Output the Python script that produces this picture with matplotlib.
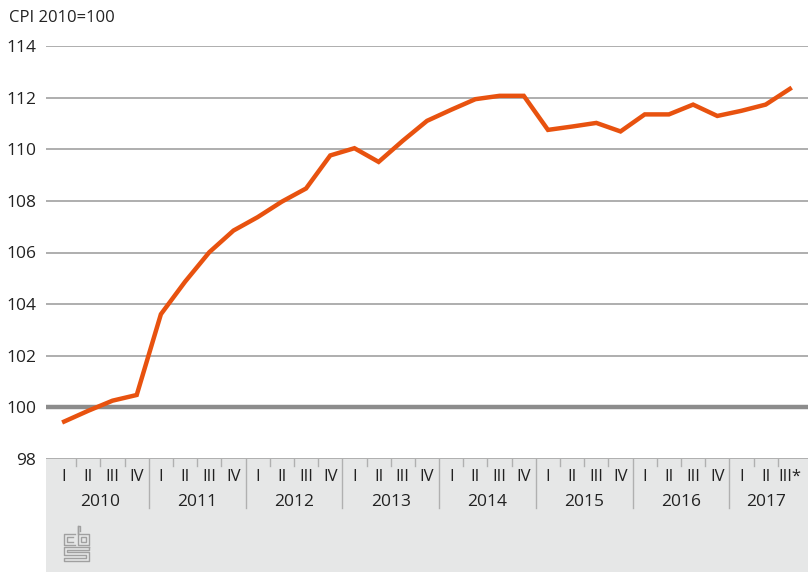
import matplotlib.pyplot as plt
from matplotlib.patches import Rectangle

years = ['2010', '2011', '2012', '2013', '2014', '2015', '2016', '2017']
quarters = ['I', 'II', 'III', 'IV']
last_label = 'III*'
cpi = [99.45, 99.87, 100.26, 100.48, 103.61, 104.87, 106.01, 106.85,
       107.37, 107.97, 108.48, 109.76, 110.04, 109.51, 110.33, 111.10,
       111.53, 111.94, 112.07, 112.07, 110.75, 110.88, 111.02, 110.69,
       111.35, 111.35, 111.73, 111.29, 111.49, 111.73, 112.34]
yticks = [98, 100, 102, 104, 106, 108, 110, 112, 114]

W, H = 808, 572
plt.rcParams['font.family'] = ['Open Sans', 'DejaVu Sans']
fig = plt.figure(figsize=(W / 100, H / 100), dpi=100)

n = len(cpi)
xs = list(range(n))
xmin, xmax = -0.75, n - 0.25

# main plot
ax = fig.add_axes([46 / W, 113 / H, 762 / W, 413 / H])
ax.set_xlim(xmin, xmax)
ax.set_ylim(98, 114)
for v in yticks:
    if v == 100:
        ax.axhline(v, color='#8c8c8c', lw=3.2, zorder=2)
    else:
        ax.axhline(v, color='#a8a8a8', lw=1.3, zorder=1)
ax.plot(xs, cpi, color='#e8520f', lw=3.2, solid_joinstyle='miter', zorder=3)
for s in ax.spines.values():
    s.set_visible(False)
ax.set_xticks([])
ax.set_yticks(yticks)
ax.tick_params(axis='y', length=0, pad=7, labelsize=12.5, labelcolor='#222222')
fig.text(9 / W, 1 - 18 / H, 'CPI 2010=100', fontsize=12, color='#222222',
         va='center', ha='left')

# category axis area
bx = fig.add_axes([46 / W, 0, 762 / W, 113 / H])
bx.set_facecolor('#e6e7e7')
bx.set_xlim(xmin, xmax)
bx.set_ylim(113, 0)
bx.set_xticks([])
bx.set_yticks([])
for s in bx.spines.values():
    s.set_visible(False)
for i in range(1, n):
    if i % 4 == 0:
        bx.plot([i - 0.5, i - 0.5], [0, 49], color='#b0b0b0', lw=1)
    else:
        bx.plot([i - 0.5, i - 0.5], [0, 7], color='#b0b0b0', lw=1)
for i in range(n):
    lab = quarters[i % 4]
    if i == n - 1:
        lab = last_label
    bx.text(i, 18, lab, ha='center', va='center', fontsize=12, color='#222222')
for k, y in enumerate(years):
    first = 4 * k
    last = min(4 * k + 3, n - 1)
    bx.text((first + last) / 2, 43, y, ha='center', va='center',
            fontsize=12.5, color='#222222')

# cbs logo (rough)
lx = fig.add_axes([0, 0, 1, 1])
lx.set_xlim(0, W)
lx.set_ylim(H, 0)
lx.axis('off')
lc = '#a0a0a0'
lw = 1.0
lx.plot([75, 64, 64, 75], [534, 534, 545, 545], color=lc, lw=lw)
lx.plot([73, 66.5, 66.5, 73], [537, 537, 542, 542], color=lc, lw=lw)
lx.plot([77.5, 77.5, 88.5, 88.5, 77.5, 77.5, 80, 80],
        [526, 545, 545, 534, 534, 526, 526, 531], color=lc, lw=lw)
lx.add_patch(Rectangle((80.5, 537), 5.5, 5, fill=False, ec=lc, lw=lw))
lx.plot([89, 64, 64, 86, 86, 64, 64, 89, 89, 67, 67, 89, 89],
        [547, 547, 555, 555, 558, 558, 561, 561, 552, 552, 550, 550, 547],
        color=lc, lw=lw)

fig.savefig('out.png', dpi=100)
